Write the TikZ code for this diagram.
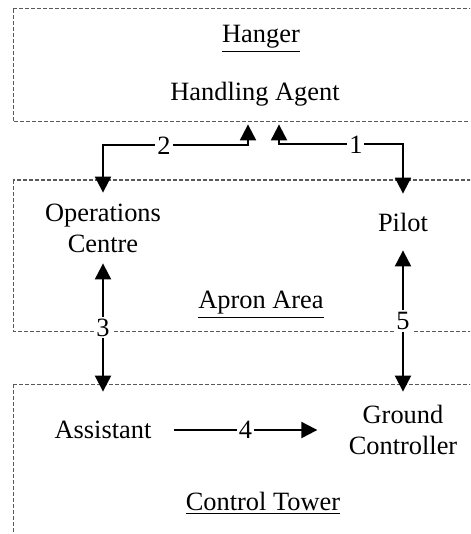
\documentclass[tikz,border=0pt]{standalone}
\usepackage{fontspec}
\setmainfont{Liberation Serif}
\usetikzlibrary{arrows.meta}

\begin{document}
\begin{tikzpicture}[x=0.5pt, y=-0.5pt,
    every node/.style={font=\fontsize{13.2}{15.5}\selectfont},
    area/.style={draw=black!65, line width=0.5pt,
        dash pattern=on 2pt off 1pt},
    actor/.style={align=center, inner sep=0pt},
    flow/.style={line width=1pt,
        >={Triangle[length=8pt, width=8pt]}},
    tag/.style={fill=white, inner sep=1pt}
    ]
    \useasboundingbox (0,0) rectangle (470,534);
    \clip (0,0) rectangle (470,534);
    \draw[area] (13,9) rectangle (490,122);
    \draw[area] (13,180) rectangle (490,331);
    \draw[area] (13,384) rectangle (490,560);
    \node (hanger) at (261,39) {\underline{Hanger}};
    \node (apron) at (261,305) {\underline{Apron Area}};
    \node (tower) at (263,503) {\underline{Control Tower}};
    \node[actor, minimum height=30pt] (agent) at (255,94) {Handling Agent};
    \node[actor, minimum height=35pt] (ops) at (103,228) {Operations\\Centre};
    \node[actor, minimum height=28pt] (pilot) at (403,222) {Pilot};
    \node[actor, minimum height=38pt] (assist) at (103,430) {Assistant};
    \node[actor, minimum height=38pt] (ground) at (403,430) {Ground\\Controller};
    \draw[flow, <->] ([xshift=-3.5pt]agent.south) -- ++(0,21)
        -| node[tag, pos=0.29] {2} (ops.north);
    \draw[flow, <->] ([xshift=12pt]agent.south) -- ++(0,20)
        -| node[tag, pos=0.31] {1} (pilot.north);
    \draw[flow, <->] (ops.south) -- node[tag] {3} (assist.north);
    \draw[flow, <->] (pilot.south) -- node[tag] {5} (ground.north);
    \draw[flow, ->] ([xshift=11pt]assist.east) -- node[tag] {4}
        ([xshift=-15.5pt]ground.west);
\end{tikzpicture}
\end{document}
